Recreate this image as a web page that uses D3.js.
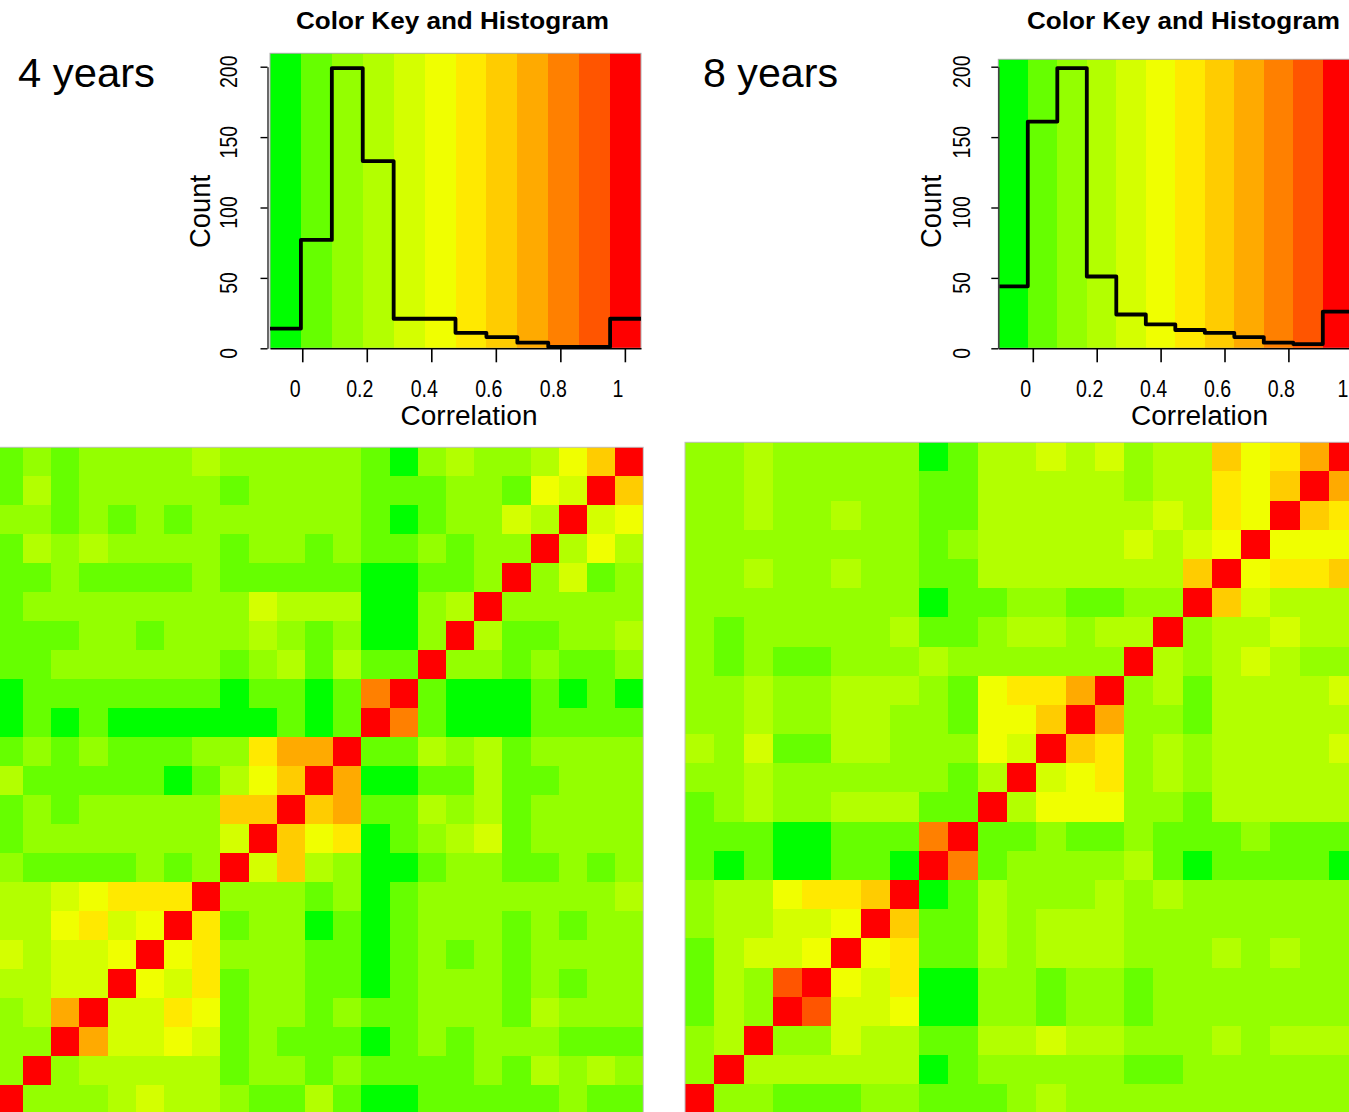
<!DOCTYPE html>
<html>
<head>
<meta charset="utf-8">
<script src="https://cdn.jsdelivr.net/npm/d3@7"></script>
<style>
  body { margin: 0; background: #fff; overflow: hidden; }
  svg { display: block; }
  text { font-family: "Liberation Sans", Arial, Helvetica, sans-serif; fill: #000; }
</style>
</head>
<body>
<div id="chart"></div>
<script>
// colour key: 12 bins green -> yellow -> red
const colors = ['#00FF00', '#66FF00', '#94FF00', '#B3FF00', '#D4FF00', '#F0FF00',
  '#FFE900', '#FFCC00', '#FFAA00', '#FF8000', '#FF5500', '#FF0000'];

const breaks4 = [-0.1, -0.0042, 0.0917, 0.1875, 0.2833, 0.3792, 0.475, 0.5708, 0.6667, 0.7625, 0.8583, 0.9542, 1.05];
const breaks8 = [-0.108, -0.0157, 0.0767, 0.169, 0.2613, 0.3537, 0.446, 0.5383, 0.6307, 0.723, 0.8153, 0.9077, 1.0];

const counts4 = [14, 77, 199, 133, 21, 21, 11, 8, 4, 1, 1, 21];
const counts8 = [44, 161, 199, 51, 24, 17, 13, 11, 8, 4, 3, 26];

const corrTicks = [0, 0.2, 0.4, 0.6, 0.8, 1];
const countTicks = [0, 50, 100, 150, 200];

// correlation matrices, rows as displayed top -> bottom
const corr4 = [
  [.04,.14,.04,.14,.14,.14,.14,.23,.14,.14,.14,.14,.14,.04,-.06,.14,.23,.14,.14,.23,.42,.6,1],
  [.04,.23,.04,.14,.14,.14,.14,.14,.04,.14,.14,.14,.14,.04,.04,.04,.14,.14,.04,.42,.32,1,.6],
  [.14,.14,.04,.14,.04,.14,.04,.14,.14,.14,.14,.14,.14,.04,-.06,.04,.14,.14,.32,.23,1,.32,.42],
  [.04,.23,.14,.23,.14,.14,.14,.14,.04,.14,.14,.04,.14,.04,.04,.14,.04,.14,.14,1,.23,.42,.23],
  [.04,.04,.14,.04,.04,.04,.04,.14,.04,.04,.04,.04,.04,-.06,-.06,.04,.04,.14,1,.14,.32,.04,.14],
  [.04,.14,.14,.14,.14,.14,.14,.14,.14,.32,.23,.23,.23,-.06,-.06,.14,.23,1,.14,.14,.14,.14,.14],
  [.04,.04,.04,.14,.14,.04,.14,.14,.14,.23,.14,.04,.14,-.06,-.06,.14,1,.23,.04,.04,.14,.14,.23],
  [.04,.04,.14,.14,.14,.14,.14,.14,.04,.14,.23,.04,.23,.04,.04,1,.14,.14,.04,.14,.04,.04,.14],
  [-.06,.04,.04,.04,.04,.04,.04,.04,-.06,.04,.04,-.06,.04,.78,1,.04,-.06,-.06,-.06,.04,-.06,.04,-.06],
  [-.06,.04,-.06,.04,-.06,-.06,-.06,-.06,-.06,-.06,.04,-.06,.04,1,.78,.04,-.06,-.06,-.06,.04,.04,.04,.04],
  [.04,.14,.04,.14,.04,.04,.04,.14,.14,.5,.69,.69,1,.04,.04,.23,.14,.23,.04,.14,.14,.14,.14],
  [.23,.04,.04,.04,.04,.04,-.06,.04,.23,.42,.6,1,.69,-.06,-.06,.04,.04,.23,.04,.04,.14,.14,.14],
  [.04,.14,.04,.14,.14,.14,.14,.14,.6,.6,1,.6,.69,.04,.04,.23,.14,.23,.04,.14,.14,.14,.14],
  [.04,.14,.14,.14,.14,.14,.14,.14,.32,1,.6,.42,.5,-.06,.04,.14,.23,.32,.04,.14,.14,.14,.14],
  [.14,.04,.04,.04,.04,.14,.04,.14,1,.32,.6,.23,.14,-.06,-.06,.04,.14,.14,.04,.04,.14,.04,.14],
  [.23,.23,.32,.42,.5,.5,.5,1,.14,.14,.14,.04,.14,-.06,.04,.14,.14,.14,.14,.14,.14,.14,.23],
  [.23,.23,.42,.5,.32,.42,1,.5,.04,.14,.14,-.06,.04,-.06,.04,.14,.14,.14,.04,.14,.04,.14,.14],
  [.32,.23,.32,.32,.42,1,.42,.5,.14,.14,.14,.04,.04,-.06,.04,.14,.04,.14,.04,.14,.14,.14,.14],
  [.23,.23,.32,.32,1,.42,.32,.5,.04,.14,.14,.04,.04,-.06,.04,.14,.14,.14,.04,.14,.04,.14,.14],
  [.14,.23,.69,1,.32,.32,.5,.42,.04,.14,.14,.04,.14,.04,.04,.14,.14,.14,.04,.23,.14,.14,.14],
  [.14,.14,1,.69,.32,.32,.42,.32,.04,.14,.04,.04,.04,-.06,.04,.14,.04,.14,.14,.14,.04,.04,.04],
  [.14,1,.14,.23,.23,.23,.23,.23,.04,.14,.14,.04,.14,.04,.04,.04,.04,.14,.04,.23,.14,.23,.14],
  [1,.14,.14,.14,.23,.32,.23,.23,.14,.04,.04,.23,.04,-.06,-.06,.04,.04,.04,.04,.04,.14,.04,.04]
];

const corr8 = [
  [.14,.14,.23,.14,.14,.14,.14,.14,-.06,.04,.23,.23,.32,.23,.32,.14,.23,.23,.6,.42,.5,.69,1],
  [.14,.14,.23,.14,.14,.14,.14,.14,.04,.04,.23,.23,.23,.23,.23,.14,.23,.23,.5,.42,.6,1,.69],
  [.14,.14,.23,.14,.14,.23,.14,.14,.04,.04,.23,.23,.23,.23,.23,.23,.32,.23,.5,.42,1,.6,.5],
  [.14,.14,.14,.14,.14,.14,.14,.14,.04,.14,.23,.23,.23,.23,.23,.32,.23,.32,.42,1,.42,.42,.42],
  [.14,.14,.23,.14,.14,.23,.14,.14,.04,.04,.23,.23,.23,.23,.23,.23,.23,.6,1,.42,.5,.5,.6],
  [.14,.14,.14,.14,.14,.14,.14,.14,-.06,.04,.04,.14,.14,.04,.04,.14,.14,1,.6,.32,.23,.23,.23],
  [.14,.04,.14,.14,.14,.14,.14,.23,.04,.04,.14,.23,.23,.14,.23,.23,1,.14,.23,.23,.32,.23,.23],
  [.14,.04,.14,.04,.04,.14,.14,.14,.23,.14,.14,.14,.14,.14,.14,1,.23,.14,.23,.32,.23,.14,.14],
  [.14,.14,.23,.14,.14,.23,.23,.23,.14,.04,.42,.5,.5,.69,1,.14,.23,.04,.23,.23,.23,.23,.32],
  [.14,.14,.23,.14,.14,.23,.23,.14,.14,.04,.42,.42,.6,1,.69,.14,.14,.04,.23,.23,.23,.23,.23],
  [.23,.14,.32,.04,.04,.23,.23,.14,.14,.14,.42,.32,1,.6,.5,.14,.23,.14,.23,.23,.23,.23,.32],
  [.14,.14,.23,.14,.14,.14,.14,.14,.14,.04,.23,1,.32,.42,.5,.14,.23,.14,.23,.23,.23,.23,.23],
  [.04,.14,.23,.14,.14,.23,.23,.23,.04,.04,1,.23,.42,.42,.42,.14,.14,.04,.23,.23,.23,.23,.23],
  [.04,.04,.04,-.06,-.06,.04,.04,.04,.78,1,.04,.04,.14,.04,.04,.14,.04,.04,.04,.14,.04,.04,.04],
  [.04,-.06,.04,-.06,-.06,.04,.04,-.06,1,.78,.04,.14,.14,.14,.14,.23,.04,-.06,.04,.04,.04,.04,-.06],
  [.14,.23,.23,.42,.5,.5,.6,1,-.06,.04,.23,.14,.14,.14,.23,.14,.23,.14,.14,.14,.14,.14,.14],
  [.14,.23,.23,.32,.32,.42,1,.6,.04,.04,.23,.14,.23,.23,.23,.14,.14,.14,.14,.14,.14,.14,.14],
  [.04,.23,.32,.32,.42,1,.42,.5,.04,.04,.23,.14,.23,.23,.23,.14,.14,.14,.23,.14,.23,.14,.14],
  [.04,.23,.14,.88,1,.42,.32,.5,-.06,-.06,.14,.14,.04,.14,.14,.04,.14,.14,.14,.14,.14,.14,.14],
  [.04,.23,.14,1,.88,.32,.32,.42,-.06,-.06,.14,.14,.04,.14,.14,.04,.14,.14,.14,.14,.14,.14,.14],
  [.14,.23,1,.14,.14,.32,.23,.23,.04,.04,.23,.23,.32,.23,.23,.14,.14,.14,.23,.14,.23,.23,.23],
  [.14,1,.23,.23,.23,.23,.23,.23,-.06,.04,.14,.14,.14,.14,.14,.04,.04,.14,.14,.14,.14,.14,.14],
  [1,.14,.14,.04,.04,.04,.14,.14,.04,.04,.04,.14,.23,.14,.14,.14,.14,.14,.14,.14,.14,.14,.14]
];

// layout for the two panels
const panels = [
  {
    label: '4 years', labelX: 18, labelW: 137,
    matrix: corr4, counts: counts4, breaks: breaks4,
    key: { x0: 270, x1: 641, y0: 53.3, axisX: 267.5 },
    titleX: 452.5, countX: 210, yLabX: 236.5, corrX: 469,
    heat: { x0: -5.3, x1: 643.3, y0: 447.3, y1: 1113.5 },
  },
  {
    label: '8 years', labelX: 703, labelW: 135,
    matrix: corr8, counts: counts8, breaks: breaks8,
    key: { x0: 998.3, x1: 1352.3, y0: 59.3, axisX: 998.3 },
    titleX: 1183.5, countX: 941, yLabX: 970, corrX: 1199.5,
    heat: { x0: 685, x1: 1358.2, y0: 442.3, y1: 1113.5 },
  },
];

const width = 1349;
const height = 1112;
const baseY = 348.3;

const svg = d3
  .select('#chart')
  .append('svg')
  .attr('width', width)
  .attr('height', height);

const smallText = (g, x, y, txt, rotate) =>
  g
    .append('text')
    .attr('transform', `translate(${x},${y})${rotate ? ' rotate(-90)' : ''} scale(0.85,1)`)
    .attr('text-anchor', 'middle')
    .attr('font-size', 23)
    .text(txt);

const drawPanel = (p) => {
  const g = svg.append('g');
  const color = d3.scaleThreshold().domain(p.breaks.slice(1, -1)).range(colors);

  // heatmap
  const n = p.matrix.length;
  const hx = d3.scaleBand().domain(d3.range(n)).range([p.heat.x0, p.heat.x1]);
  const hy = d3.scaleBand().domain(d3.range(n)).range([p.heat.y0, p.heat.y1]);
  const cells = p.matrix.flatMap((row, i) => row.map((v, j) => ({ i, j, v })));

  g.append('g')
    .selectAll('rect')
    .data(cells)
    .join('rect')
    .attr('x', (d) => hx(d.j))
    .attr('y', (d) => hy(d.i))
    .attr('width', hx.bandwidth())
    .attr('height', hy.bandwidth())
    .attr('shape-rendering', 'crispEdges')
    .attr('fill', (d) => color(d.v));

  g.append('rect')
    .attr('x', p.heat.x0)
    .attr('y', p.heat.y0)
    .attr('width', p.heat.x1 - p.heat.x0)
    .attr('height', p.heat.y1 - p.heat.y0)
    .attr('fill', 'none')
    .attr('stroke', '#c0c0c0');

  // colour key with histogram
  const x = d3.scaleLinear().domain([p.breaks[0], p.breaks[p.breaks.length - 1]]).range([p.key.x0, p.key.x1]);
  const y = d3.scaleLinear().domain([0, 200]).range([baseY, 66.7]);

  g.append('g')
    .selectAll('rect')
    .data(colors)
    .join('rect')
    .attr('x', (d, i) => x(p.breaks[i]))
    .attr('y', p.key.y0)
    .attr('width', (d, i) => x(p.breaks[i + 1]) - x(p.breaks[i]))
    .attr('height', baseY - p.key.y0)
    .attr('shape-rendering', 'crispEdges')
    .attr('fill', (d) => d);

  g.append('rect')
    .attr('x', p.key.x0)
    .attr('y', p.key.y0)
    .attr('width', p.key.x1 - p.key.x0)
    .attr('height', baseY - p.key.y0)
    .attr('fill', 'none')
    .attr('stroke', '#b0b0b0');

  const steps = p.counts
    .map((c, i) => ({ b: p.breaks[i], c }))
    .concat([{ b: p.breaks[p.breaks.length - 1], c: p.counts[p.counts.length - 1] }]);

  g.append('path')
    .datum(steps)
    .attr('fill', 'none')
    .attr('stroke', '#000')
    .attr('stroke-width', 3.8)
    .attr('stroke-linejoin', 'round')
    .attr(
      'd',
      d3
        .line()
        .x((d) => x(d.b))
        .y((d) => y(d.c))
        .curve(d3.curveStepAfter)
    );

  // axes
  const xAxis = g
    .append('g')
    .attr('transform', `translate(0,${baseY})`)
    .call(d3.axisBottom(x).tickValues(corrTicks).tickSize(14).tickSizeOuter(0).tickFormat(''));
  xAxis.select('.domain').attr('stroke-width', 1.6);
  xAxis.selectAll('.tick line').attr('stroke-width', 1.6);

  const yAxis = g
    .append('g')
    .attr('transform', `translate(${p.key.axisX},0)`)
    .call(d3.axisLeft(y).tickValues(countTicks).tickSize(7).tickSizeOuter(0).tickFormat(''));
  yAxis.select('.domain').attr('stroke', '#444').attr('stroke-width', 1.6);
  yAxis.selectAll('.tick line').attr('stroke-width', 1.4);

  // keep the last tick label inside the picture
  corrTicks.forEach((t) => smallText(g, Math.min(x(t) - 7, width - 6), 396.5, String(t)));
  countTicks.forEach((t) => smallText(g, p.yLabX, y(t) + 5, String(t), true));

  g.append('text')
    .attr('x', p.titleX)
    .attr('y', 29)
    .attr('text-anchor', 'middle')
    .attr('font-size', 24)
    .attr('font-weight', 'bold')
    .attr('textLength', 313)
    .attr('lengthAdjust', 'spacingAndGlyphs')
    .text('Color Key and Histogram');

  g.append('text')
    .attr('x', p.corrX)
    .attr('y', 425)
    .attr('text-anchor', 'middle')
    .attr('font-size', 27)
    .attr('textLength', 137)
    .attr('lengthAdjust', 'spacingAndGlyphs')
    .text('Correlation');

  g.append('text')
    .attr('transform', `translate(${p.countX},211.5) rotate(-90)`)
    .attr('text-anchor', 'middle')
    .attr('font-size', 29)
    .attr('textLength', 73)
    .attr('lengthAdjust', 'spacingAndGlyphs')
    .text('Count');

  g.append('text')
    .attr('x', p.labelX)
    .attr('y', 87.3)
    .attr('font-size', 40)
    .attr('textLength', p.labelW)
    .attr('lengthAdjust', 'spacingAndGlyphs')
    .text(p.label);
};

panels.forEach(drawPanel);
</script>
</body>
</html>
